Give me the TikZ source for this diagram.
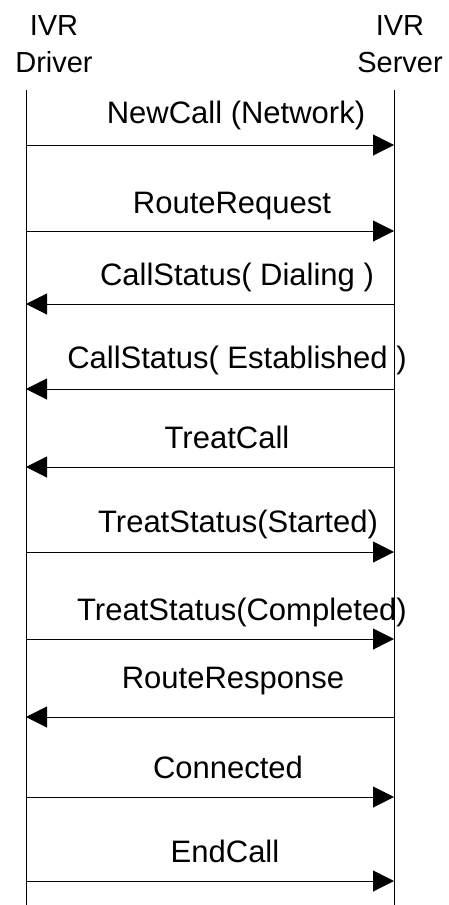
\documentclass[tikz,border=0pt]{standalone}
\usepackage{fontspec}
\setmainfont{Liberation Sans}
\usepackage{tikz}
\usetikzlibrary{arrows.meta}

\begin{document}
\begin{tikzpicture}[x=1pt,y=-1pt,>={Triangle[length=21pt,width=21pt]},
  head/.style={font=\fontsize{29}{37}\selectfont,align=center,inner sep=0pt,anchor=base},
  lbl/.style={font=\fontsize{31}{37}\selectfont,inner sep=0pt,anchor=base},
  life/.style={line width=1pt},
  msg/.style={->,line width=1pt}]
  \useasboundingbox (0,0) rectangle (448,905);
  % the two participants
  \node[head] (drv) at (54,72) {IVR\\Driver};
  \node[head] (srv) at (400,72) {IVR\\Server};
  \coordinate (dtop) at (26,90);
  \coordinate (dbot) at (26,905);
  \coordinate (stop) at (394,90);
  \coordinate (sbot) at (394,905);
  \draw[life] (dtop) -- (dbot);
  \draw[life] (stop) -- (sbot);
  % message end points on the driver and server lines
  \coordinate (d1) at (26,145);  \coordinate (s1) at (394,145);
  \coordinate (d2) at (26,231);  \coordinate (s2) at (394,231);
  \coordinate (d3) at (26,304);  \coordinate (s3) at (394,304);
  \coordinate (d4) at (26,389);  \coordinate (s4) at (394,389);
  \coordinate (d5) at (26,467);  \coordinate (s5) at (394,467);
  \coordinate (d6) at (26,552);  \coordinate (s6) at (394,552);
  \coordinate (d7) at (26,639);  \coordinate (s7) at (394,639);
  \coordinate (d8) at (26,717);  \coordinate (s8) at (394,717);
  \coordinate (d9) at (26,797);  \coordinate (s9) at (394,797);
  \coordinate (d10) at (26,881); \coordinate (s10) at (394,881);
  \draw[msg] (d1) -- (s1);
  \draw[msg] (d2) -- (s2);
  \draw[msg] (s3) -- (d3);
  \draw[msg] (s4) -- (d4);
  \draw[msg] (s5) -- (d5);
  \draw[msg] (d6) -- (s6);
  \draw[msg] (d7) -- (s7);
  \draw[msg] (s8) -- (d8);
  \draw[msg] (d9) -- (s9);
  \draw[msg] (d10) -- (s10);
  % message names
  \node[lbl] (m1) at (236,123) {NewCall (Network)};
  \node[lbl] (m2) at (232,213) {RouteRequest};
  \node[lbl] (m3) at (237,285) {CallStatus( Dialing )};
  \node[lbl] (m4) at (237,368) {CallStatus( Established )};
  \node[lbl] (m5) at (227,448) {TreatCall};
  \node[lbl] (m6) at (238,532) {TreatStatus(Started)};
  \node[lbl] (m7) at (242,620) {TreatStatus(Completed)};
  \node[lbl] (m8) at (233,688) {RouteResponse};
  \node[lbl] (m9) at (228,778) {Connected};
  \node[lbl] (m10) at (225,862) {EndCall};
\end{tikzpicture}
\end{document}
